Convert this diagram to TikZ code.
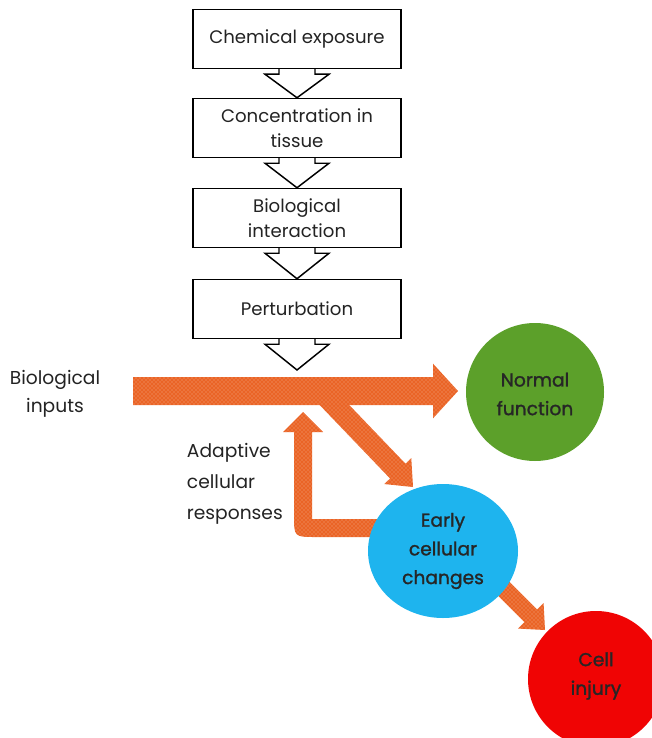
\documentclass[tikz,border=0pt]{standalone}
\usepackage{fontspec}
\setmainfont{Poppins}
\newfontfamily\heavyfont{Poppins}[FakeBold=1.3]
\usetikzlibrary{calc,patterns}

\definecolor{fatorange}{RGB}{234,100,38}
\definecolor{normalgreen}{RGB}{92,160,42}
\definecolor{earlyblue}{RGB}{30,180,238}
\definecolor{injuryred}{RGB}{240,4,4}
\definecolor{inkgray}{RGB}{35,35,35}

\pgfdeclarelayer{background}
\pgfsetlayers{background,main}

\tikzset{every picture/.style={line width=0.75pt}}
\tikzset{
  stagebox/.style={draw, line width=1.1pt, fill=white, minimum width=156pt, minimum height=44.25pt,
    align=center, text=inkgray, font=\fontsize{13.6}{18.75}\selectfont},
  outcome/.style={align=center, text=black!85, font=\heavyfont\fontsize{14}{21.5}\selectfont},
  sidetext/.style={text=inkgray, font=\fontsize{14}{21}\selectfont},
  fatfill/.style={fill=fatorange, postaction={pattern=crosshatch dots, pattern color=white!45!fatorange}},
}

% open block arrow between two stages
\newcommand{\hollowarrow}[2]{%
  \draw[line width=1.1pt, fill=white] ($(#1)+(-18,0)$) -- ($(#1)+(-18,5)$) -- ($(#1)+(-32,5)$) -- (#2)
    -- ($(#1)+(32,5)$) -- ($(#1)+(18,5)$) -- ($(#1)+(18,0)$) ;}

% textured block arrow: start, tip, half shaft, half head, head length
\newcommand{\fatarrow}[5]{%
  \coordinate (hb) at ($(#2)!#5!(#1)$);
  \fill[fatfill] ($(#1)!#3!90:(#2)$) -- ($(hb)!#3!90:(#2)$) -- ($(hb)!#4!90:(#2)$) -- (#2)
    -- ($(hb)!#4!-90:(#2)$) -- ($(hb)!#3!-90:(#2)$) -- ($(#1)!#3!-90:(#2)$) -- cycle ;}

\begin{document}
\begin{tikzpicture}[x=0.75pt,y=0.75pt,yscale=-1,xscale=1]
    \useasboundingbox (0,0) rectangle (652,738);
    \clip (0,0) rectangle (652,738);

    %Stages
    \node[stagebox] (chem) at (297,39) {Chemical exposure};
    \node[stagebox] (conc) at (297,128) {Concentration in\\tissue};
    \node[stagebox] (inter) at (297,218) {Biological\\interaction};
    \node[stagebox] (pert) at (297,309) {Perturbation};

    %Outcomes
    \fill[normalgreen] (535,392) circle (69);
    \node[outcome] (normal) at (535,394) {Normal\\function};
    \fill[earlyblue] (443,551) ellipse (75 and 67);
    \node[outcome] (early) at (443,551) {Early\\cellular\\changes};
    \fill[injuryred] (596,679) circle (68);
    \node[outcome] (injury) at (596,676) {Cell\\injury};

    % Text Node
    \node[sidetext, align=center] (bioin) at (55,394) {Biological\\inputs};
    % Text Node
    \node[sidetext, align=left, anchor=west, font=\fontsize{14}{23.25}\selectfont] (adapt) at (182,484) {Adaptive\\cellular\\responses};

    %Open arrows down the chain
    \coordinate (hit) at (297,370);
    \hollowarrow{chem.south}{conc.north}
    \hollowarrow{conc.south}{inter.north}
    \hollowarrow{inter.south}{pert.north}
    \hollowarrow{pert.south}{hit}

    \begin{pgfonlayer}{background}
    \coordinate (barstart) at (133,391);
    \coordinate (bartip) at (458,391);
    \coordinate (forkstart) at (322,392);
    \coordinate (forktip) at (413,487);
    \coordinate (injstart) at (498,583);
    \coordinate (injtip) at (545,630);

    %Shape: fork to early changes
    \fatarrow{forkstart}{forktip}{8pt}{14pt}{16.5pt}
    %Shape: adaptive loop back to the bar
    \fill[fatfill] (380,519) -- (312,519) -- (312,432) -- (323,432) -- (303,412) -- (283,432) -- (294,432)
        -- (294,515) .. controls (294,537) .. (316,537) -- (380,537) -- cycle ;
    %Shape: main bar
    \fatarrow{barstart}{bartip}{10.5pt}{20.5pt}{18.75pt}
    %Shape: early changes to injury
    \fatarrow{injstart}{injtip}{6.75pt}{13.5pt}{15pt}
    \end{pgfonlayer}
\end{tikzpicture}
\end{document}
